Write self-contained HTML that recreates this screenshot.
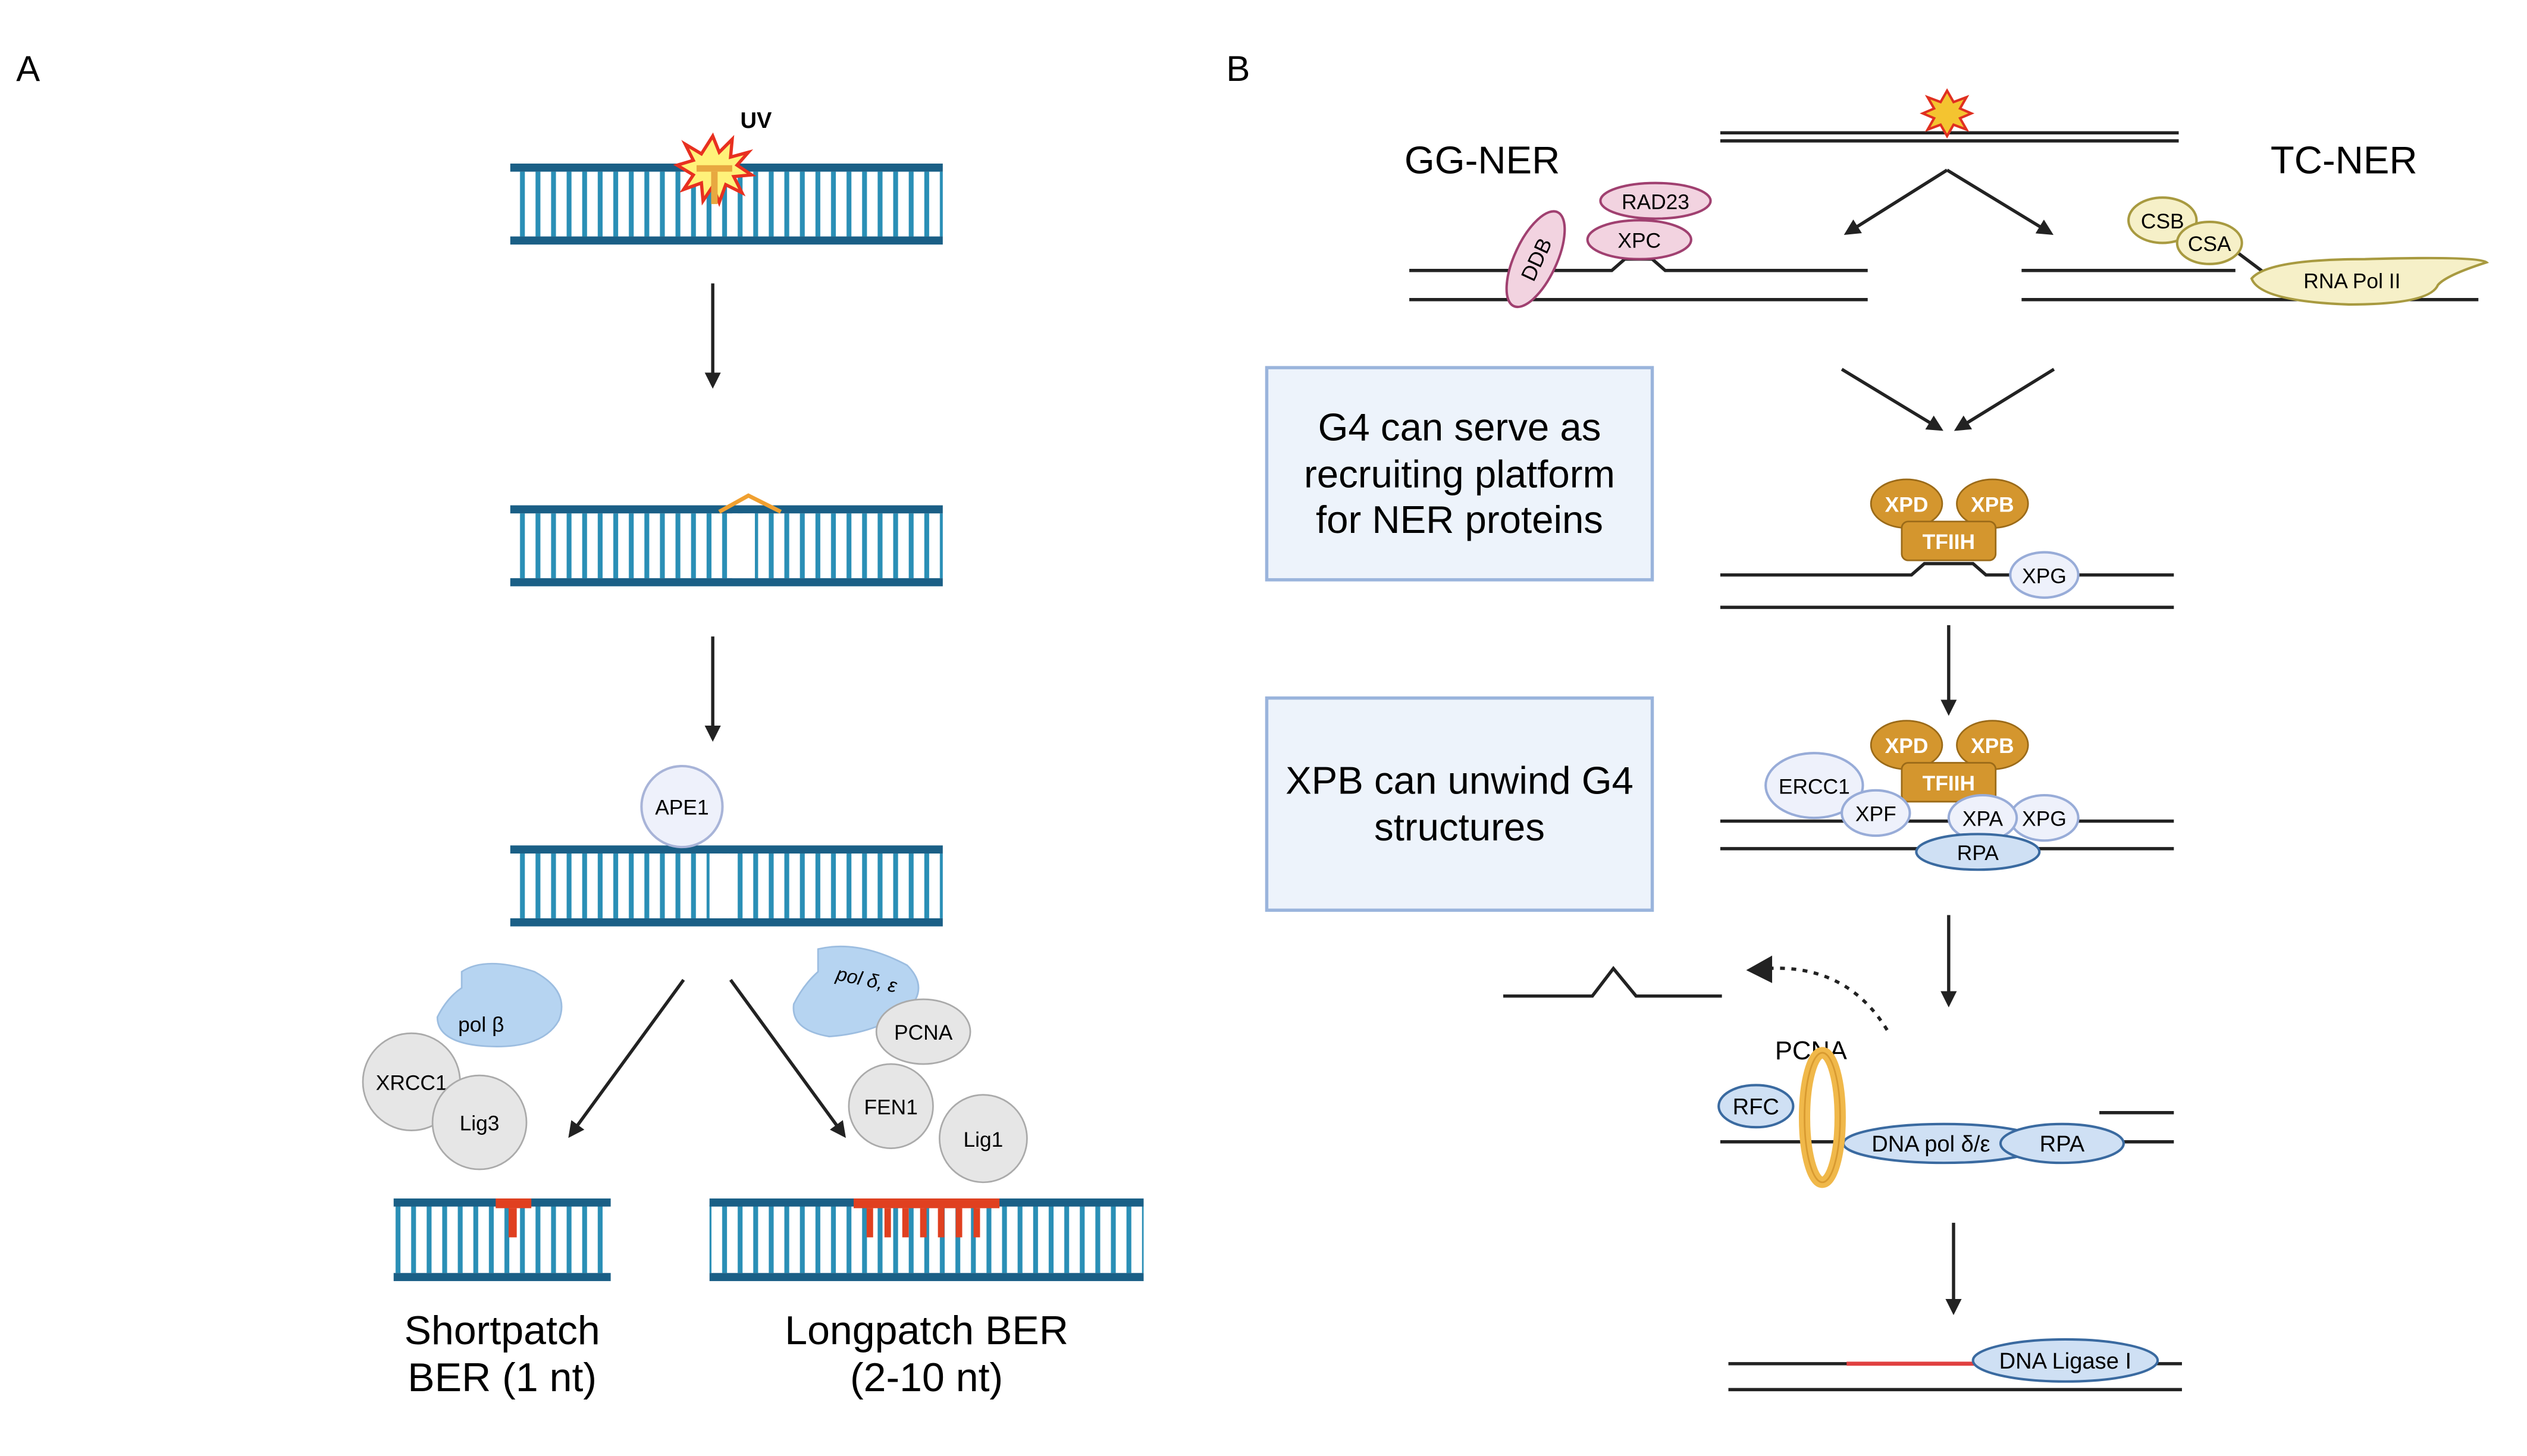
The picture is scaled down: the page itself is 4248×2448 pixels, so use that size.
<!DOCTYPE html>
<html><head><meta charset="utf-8"><style>
html,body{margin:0;padding:0;background:#fff}
svg{display:block}
text{font-family:"Liberation Sans",sans-serif}
</style></head><body>
<svg width="4248" height="2448" viewBox="0 0 1560 899" xmlns="http://www.w3.org/2000/svg">
<defs>
<pattern id="rung" x="318" y="0" width="9.6" height="10" patternUnits="userSpaceOnUse">
<rect width="9.6" height="10" fill="#fff"/><rect x="3" width="3" height="10" fill="#2a8fb6"/>
</pattern>
<marker id="ah" markerWidth="10" markerHeight="10" refX="8" refY="5" orient="auto" markerUnits="userSpaceOnUse">
<path d="M0,0 L10,5 L0,10 z" fill="#222"/></marker>
</defs>
<rect width="1560" height="899" fill="#fff"/>
<!-- Panel A -->
<text x="10" y="50" font-size="22">A</text>
<rect x="315" y="106" width="267" height="40" fill="url(#rung)"/>
<rect x="315" y="101" width="267" height="5" fill="#1a5f86"/>
<rect x="315" y="146" width="267" height="5" fill="#1a5f86"/>
<polygon points="440,84 444,94 452,86 451,97 462,94 455,102 464,108 453,109 458,119 448,114 444,125 440,115 434,124 433,113 422,117 428,108 418,102 428,99 423,89 433,95" fill="#fff27a" stroke="#e83020" stroke-width="2"/>
<rect x="430" y="102" width="22" height="4" fill="#e8a840"/>
<rect x="439" y="106" width="4" height="20" fill="#e8a840"/>
<text x="457" y="79" font-size="14" font-weight="bold">UV</text>
<line x1="440" y1="175" x2="440" y2="238" stroke="#222" stroke-width="2" marker-end="url(#ah)"/>
<rect x="315" y="317" width="267" height="40" fill="url(#rung)"/>
<rect x="315" y="312" width="267" height="5" fill="#1a5f86"/>
<rect x="315" y="357" width="267" height="5" fill="#1a5f86"/>
<rect x="452" y="317" width="14" height="40" fill="#fff"/>
<polyline points="444,316 462,306 482,316" fill="none" stroke="#f0a030" stroke-width="2.5"/>
<line x1="440" y1="393" x2="440" y2="456" stroke="#222" stroke-width="2" marker-end="url(#ah)"/>
<rect x="315" y="527" width="267" height="40" fill="url(#rung)"/>
<rect x="315" y="522" width="267" height="5" fill="#1a5f86"/>
<rect x="315" y="567" width="267" height="5" fill="#1a5f86"/>
<rect x="438" y="527" width="12" height="40" fill="#fff"/>
<circle cx="421" cy="498" r="25" fill="#eef1fb" stroke="#a8b4d8" stroke-width="1.5"/>
<text x="421" y="503" font-size="13" text-anchor="middle">APE1</text>
<line x1="422" y1="605" x2="352" y2="701" stroke="#222" stroke-width="2" marker-end="url(#ah)"/>
<line x1="451" y1="605" x2="521" y2="701" stroke="#222" stroke-width="2" marker-end="url(#ah)"/>
<path d="M285,600 Q300,590 330,600 Q352,612 345,630 Q335,648 300,646 Q270,644 270,628 Q276,616 285,610 Z" fill="#b6d4f1" stroke="#9cbde0"/>
<text x="297" y="637" font-size="13" text-anchor="middle">pol β</text>
<circle cx="254" cy="668" r="30" fill="#e6e6e6" stroke="#aaa"/>
<text x="254" y="673" font-size="13" text-anchor="middle">XRCC1</text>
<circle cx="296" cy="693" r="29" fill="#e6e6e6" stroke="#aaa"/>
<text x="296" y="698" font-size="13" text-anchor="middle">Lig3</text>
<path d="M505,586 Q530,580 560,596 Q574,610 560,624 Q540,638 512,640 Q488,636 490,620 Q496,608 505,600 Z" fill="#b6d4f1" stroke="#9cbde0"/>
<text x="535" y="609" font-size="12" font-style="italic" text-anchor="middle" transform="rotate(12 535 605)">pol δ, ε</text>
<ellipse cx="570" cy="637" rx="29" ry="20" fill="#e6e6e6" stroke="#aaa"/>
<text x="570" y="642" font-size="13" text-anchor="middle">PCNA</text>
<circle cx="550" cy="683" r="26" fill="#e6e6e6" stroke="#aaa"/>
<text x="550" y="688" font-size="13" text-anchor="middle">FEN1</text>
<circle cx="607" cy="703" r="27" fill="#e6e6e6" stroke="#aaa"/>
<text x="607" y="708" font-size="13" text-anchor="middle">Lig1</text>
<rect x="243" y="744" width="134" height="42" fill="url(#rung)"/>
<rect x="243" y="740" width="134" height="5" fill="#1a5f86"/>
<rect x="243" y="786" width="134" height="5" fill="#1a5f86"/>
<rect x="306" y="740" width="22" height="6" fill="#e04020"/><rect x="314" y="746" width="5" height="18" fill="#e04020"/>
<rect x="438" y="744" width="268" height="42" fill="url(#rung)"/>
<rect x="438" y="740" width="268" height="5" fill="#1a5f86"/>
<rect x="438" y="786" width="268" height="5" fill="#1a5f86"/>
<rect x="527" y="740" width="90" height="6" fill="#e04020"/>
<g fill="#e04020"><rect x="535" y="746" width="4" height="18"/><rect x="546" y="746" width="4" height="18"/><rect x="557" y="746" width="4" height="18"/><rect x="568" y="746" width="4" height="18"/><rect x="579" y="746" width="4" height="18"/><rect x="590" y="746" width="4" height="18"/><rect x="601" y="746" width="4" height="18"/></g>
<text x="310" y="830" font-size="25" text-anchor="middle">Shortpatch</text>
<text x="310" y="859" font-size="25" text-anchor="middle">BER (1 nt)</text>
<text x="572" y="830" font-size="25" text-anchor="middle">Longpatch BER</text>
<text x="572" y="859" font-size="25" text-anchor="middle">(2-10 nt)</text>
<!-- Panel B -->
<text x="757" y="50" font-size="22">B</text>
<line x1="1062" y1="82" x2="1345" y2="82" stroke="#222" stroke-width="2"/>
<line x1="1062" y1="87" x2="1345" y2="87" stroke="#222" stroke-width="2"/>
<polygon points="1202,56 1206,63 1214,60 1210,67 1217,70 1210,73 1214,80 1206,77 1202,84 1198,77 1190,80 1194,73 1187,70 1194,67 1190,60 1198,63" fill="#f4c430" stroke="#e03020" stroke-width="1.5"/>
<text x="915" y="107" font-size="24" text-anchor="middle">GG-NER</text>
<text x="1447" y="107" font-size="24" text-anchor="middle">TC-NER</text>
<line x1="1202" y1="105" x2="1140" y2="144" stroke="#222" stroke-width="2" marker-end="url(#ah)"/>
<line x1="1202" y1="105" x2="1266" y2="144" stroke="#222" stroke-width="2" marker-end="url(#ah)"/>
<polyline points="870,167 995,167 1003,160 1020,160 1028,167 1153,167" fill="none" stroke="#222" stroke-width="2"/>
<line x1="870" y1="185" x2="1153" y2="185" stroke="#222" stroke-width="2"/>
<ellipse cx="948" cy="160" rx="13" ry="32" transform="rotate(25 948 160)" fill="#f2d3e0" stroke="#a04070" stroke-width="1.5"/>
<text x="948" y="165" font-size="13" text-anchor="middle" transform="rotate(-65 948 160)">DDB</text>
<ellipse cx="1022" cy="124" rx="34" ry="11" fill="#f2d3e0" stroke="#a04070" stroke-width="1.5"/>
<text x="1022" y="129" font-size="13" text-anchor="middle">RAD23</text>
<ellipse cx="1012" cy="148" rx="32" ry="12" fill="#f2d3e0" stroke="#a04070" stroke-width="1.5"/>
<text x="1012" y="153" font-size="13" text-anchor="middle">XPC</text>
<line x1="1248" y1="167" x2="1380" y2="167" stroke="#222" stroke-width="2"/>
<line x1="1248" y1="185" x2="1530" y2="185" stroke="#222" stroke-width="2"/>
<line x1="1380" y1="155" x2="1400" y2="170" stroke="#222" stroke-width="2"/>
<ellipse cx="1335" cy="136" rx="21" ry="14" fill="#f6f0c8" stroke="#a89a40" stroke-width="1.5"/>
<text x="1335" y="141" font-size="13" text-anchor="middle">CSB</text>
<ellipse cx="1364" cy="150" rx="20" ry="13" fill="#f6f0c8" stroke="#a89a40" stroke-width="1.5"/>
<text x="1364" y="155" font-size="13" text-anchor="middle">CSA</text>
<path d="M1390,172 Q1400,160 1460,160 Q1530,158 1535,162 Q1510,170 1505,176 Q1500,188 1450,188 Q1395,186 1390,172 Z" fill="#f6f0c8" stroke="#a89a40" stroke-width="1.5"/>
<text x="1452" y="178" font-size="13" text-anchor="middle">RNA Pol II</text>
<rect x="782" y="227" width="238" height="131" fill="#edf3fb" stroke="#9ab4dc" stroke-width="2"/>
<text x="901" y="272" font-size="24" text-anchor="middle">G4 can serve as</text>
<text x="901" y="301" font-size="24" text-anchor="middle">recruiting platform</text>
<text x="901" y="329" font-size="24" text-anchor="middle">for NER proteins</text>
<rect x="782" y="431" width="238" height="131" fill="#edf3fb" stroke="#9ab4dc" stroke-width="2"/>
<text x="901" y="490" font-size="24" text-anchor="middle">XPB can unwind G4</text>
<text x="901" y="519" font-size="24" text-anchor="middle">structures</text>
<line x1="1137" y1="228" x2="1198" y2="265" stroke="#222" stroke-width="2" marker-end="url(#ah)"/>
<line x1="1268" y1="228" x2="1208" y2="265" stroke="#222" stroke-width="2" marker-end="url(#ah)"/>
<polyline points="1062,355 1180,355 1188,348 1218,348 1226,355 1342,355" fill="none" stroke="#222" stroke-width="2"/>
<line x1="1062" y1="375" x2="1342" y2="375" stroke="#222" stroke-width="2"/>
<g font-weight="bold" fill="#fff" font-size="13" text-anchor="middle">
<ellipse cx="1177" cy="311" rx="22" ry="15" fill="#d4962e" stroke="#9a6a18"/>
<ellipse cx="1230" cy="311" rx="22" ry="15" fill="#d4962e" stroke="#9a6a18"/>
<rect x="1174" y="322" width="58" height="24" rx="4" fill="#d4962e" stroke="#9a6a18"/>
<text x="1177" y="316">XPD</text><text x="1230" y="316">XPB</text><text x="1203" y="339">TFIIH</text>
</g>
<ellipse cx="1262" cy="355" rx="21" ry="14" fill="#eef1fb" stroke="#98acd8" stroke-width="1.5"/>
<text x="1262" y="360" font-size="13" text-anchor="middle">XPG</text>
<line x1="1203" y1="386" x2="1203" y2="440" stroke="#222" stroke-width="2" marker-end="url(#ah)"/>
<line x1="1062" y1="507" x2="1342" y2="507" stroke="#222" stroke-width="2"/>
<line x1="1062" y1="524" x2="1342" y2="524" stroke="#222" stroke-width="2"/>
<g font-weight="bold" fill="#fff" font-size="13" text-anchor="middle">
<ellipse cx="1177" cy="460" rx="22" ry="15" fill="#d4962e" stroke="#9a6a18"/>
<ellipse cx="1230" cy="460" rx="22" ry="15" fill="#d4962e" stroke="#9a6a18"/>
<rect x="1174" y="471" width="58" height="24" rx="4" fill="#d4962e" stroke="#9a6a18"/>
<text x="1177" y="465">XPD</text><text x="1230" y="465">XPB</text><text x="1203" y="488">TFIIH</text>
</g>
<g font-size="13" text-anchor="middle">
<ellipse cx="1120" cy="485" rx="30" ry="20" fill="#eef1fb" stroke="#98acd8" stroke-width="1.5"/>
<text x="1120" y="490">ERCC1</text>
<ellipse cx="1158" cy="502" rx="21" ry="14" fill="#eef1fb" stroke="#98acd8" stroke-width="1.5"/>
<text x="1158" y="507">XPF</text>
<ellipse cx="1262" cy="505" rx="21" ry="14" fill="#eef1fb" stroke="#98acd8" stroke-width="1.5"/>
<text x="1262" y="510">XPG</text>
<ellipse cx="1224" cy="505" rx="21" ry="14" fill="#eef1fb" stroke="#98acd8" stroke-width="1.5"/>
<text x="1224" y="510">XPA</text>
<ellipse cx="1221" cy="526" rx="38" ry="11" fill="#cfe0f4" stroke="#3a6aa0" stroke-width="1.5"/>
<text x="1221" y="531">RPA</text>
</g>
<line x1="1203" y1="565" x2="1203" y2="620" stroke="#222" stroke-width="2" marker-end="url(#ah)"/>
<polyline points="928,615 983,615 996,598 1010,615 1063,615" fill="none" stroke="#222" stroke-width="2"/>
<path d="M1165,636 Q1140,595 1090,598" fill="none" stroke="#222" stroke-width="2" stroke-dasharray="3,4"/>
<path d="M1078,599 L1094,590 L1094,607 z" fill="#222"/>
<text x="1118" y="654" font-size="16" text-anchor="middle">PCNA</text>
<line x1="1062" y1="705" x2="1342" y2="705" stroke="#222" stroke-width="2"/>
<line x1="1296" y1="687" x2="1342" y2="687" stroke="#222" stroke-width="2"/>
<g font-size="14" text-anchor="middle">
<ellipse cx="1084" cy="683" rx="23" ry="13" fill="#cfe0f4" stroke="#3a6aa0" stroke-width="1.5"/>
<text x="1084" y="688">RFC</text>
<ellipse cx="1200" cy="706" rx="62" ry="12" fill="#cfe0f4" stroke="#3a6aa0" stroke-width="1.5"/>
<text x="1192" y="711">DNA pol δ/ε</text>
<ellipse cx="1273" cy="706" rx="38" ry="12" fill="#cfe0f4" stroke="#3a6aa0" stroke-width="1.5"/>
<text x="1273" y="711">RPA</text>
</g>
<ellipse cx="1125" cy="690" rx="11" ry="40" fill="none" stroke="#f0b84a" stroke-width="7"/>
<ellipse cx="1125" cy="690" rx="11" ry="40" fill="none" stroke="#d89a30" stroke-width="1"/>
<line x1="1206" y1="755" x2="1206" y2="810" stroke="#222" stroke-width="2" marker-end="url(#ah)"/>
<line x1="1067" y1="842" x2="1347" y2="842" stroke="#222" stroke-width="2"/>
<line x1="1140" y1="842" x2="1220" y2="842" stroke="#e04040" stroke-width="2.5"/>
<line x1="1067" y1="858" x2="1347" y2="858" stroke="#222" stroke-width="2"/>
<ellipse cx="1275" cy="840" rx="57" ry="13" fill="#cfe0f4" stroke="#3a6aa0" stroke-width="1.5"/>
<text x="1275" y="845" font-size="14" text-anchor="middle">DNA Ligase I</text>
</svg>
</body></html>
